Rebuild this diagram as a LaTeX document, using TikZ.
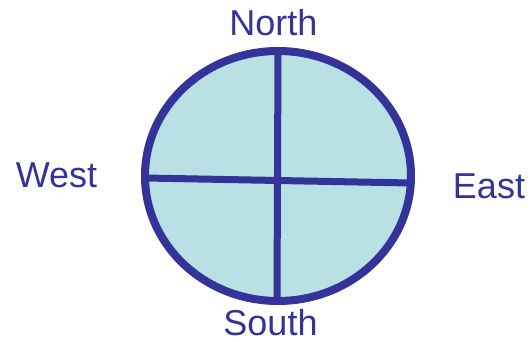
\documentclass[tikz,border=0pt]{standalone}
\usepackage{fontspec}
\setmainfont{Liberation Sans}
\usetikzlibrary{positioning}
\definecolor{rimblue}{RGB}{51,51,153}
\definecolor{seafill}{RGB}{185,224,228}
\tikzset{
  dirlabel/.style={anchor=base,inner sep=0pt,text=rimblue,font=\fontsize{36}{40}\selectfont},
  rim/.style={draw=rimblue,line width=8pt},
  cross/.style={draw=rimblue,line width=7pt}
}
\begin{document}
\begin{tikzpicture}[x=1pt,y=-1pt]
        \useasboundingbox (0,0) rectangle (531,342);
        %disegno il disco
        \fill[seafill] (278,176) ellipse [x radius=133,y radius=125];
        %estremi della croce
        \coordinate (top) at (278,51);
        \coordinate (bottom) at (277,301);
        \coordinate (left) at (145,178);
        \coordinate (right) at (411,183);
        \draw[cross] (top)--(bottom);
        \draw[cross] (left)--(right);
        \draw[rim] (278,176) ellipse [x radius=133,y radius=125];
        %disegno i punti cardinali
        \node[dirlabel] (north) at (273.5,36) {North};
        \node[dirlabel] (south) at (270.5,335.5) {South};
        \node[dirlabel] (west) at (56.5,188) {West};
        \node[dirlabel] (east) at (489,199) {East};
\end{tikzpicture}
\end{document}
